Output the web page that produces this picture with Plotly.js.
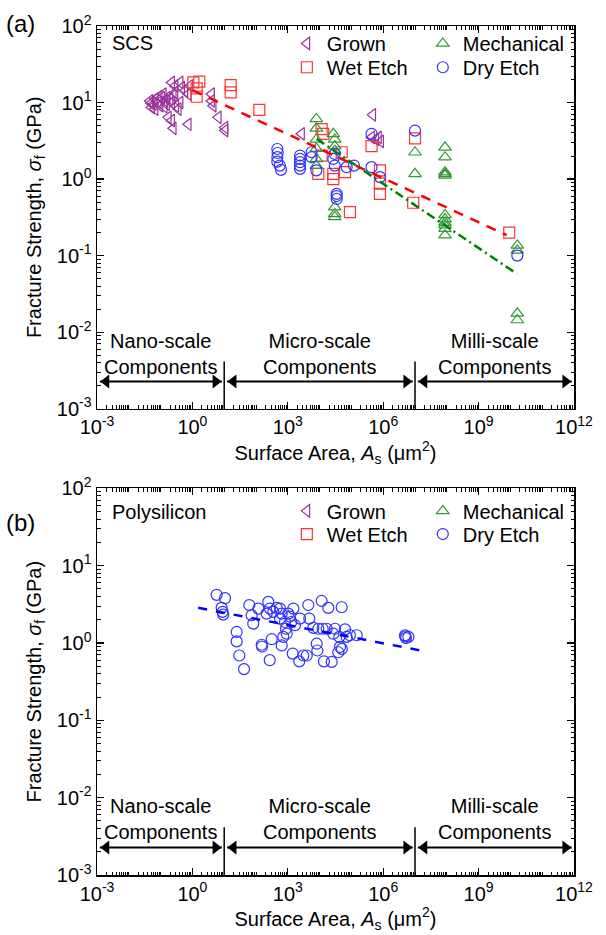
<!DOCTYPE html>
<html><head><meta charset="utf-8">
<script src="https://cdn.plot.ly/plotly-3.0.1.min.js"></script>
<style>body{margin:0;background:#fff}</style>
</head><body><div id="chart" style="width:606px;height:935px"></div>
<script>
// ---------- Panel (a): SCS ----------
const grownA = [0.046,0.059,0.052,0.067,0.085,0.096,0.108,0.137,0.155,0.198,0.223,0.25,0.284,0.36,0.41,0.175,0.223,0.25,0.74,0.223,0.284,0.41,0.46,0.58,0.74,0.84,0.122,0.067,4.0,4.0,4.5,6.5,10.6,10.6,2700,4.7e5,4.3e5,5.9e5,8.3e5,7.1e5,0.09,0.13,0.3,0.05,0.16];
const grownS = [10.5,9.5,8.6,11.1,10,9.1,11.6,10.5,9.5,11.1,10,12.3,13.5,8.2,10,6.4,5.8,4.6,5.2,18.3,16.5,18.3,15.7,14.2,12.9,16.5,12.9,8.2,12.9,10.5,9.1,6.4,4.7,4.3,3.9,6.9,3.5,3.3,3.1,3.5,12,8.8,9,9.8,11.5];

const wetA = [1.07,1.65,1.36,1.36,16,16,127,1.16e4,1.3e4,4.95e4,1.16e4,9.1e3,2.7e4,2.7e4,6.3e4,9e4,4.3e5,7.9e5,7.9e5,7.9e5,1e7,8.8e6,9.2e9];
const wetS = [18.3,18.8,15.3,11.9,16.9,13.6,8.0,4.5,3.9,2.24,2.03,1.17,1.17,1.0,1.23,0.37,2.7,1.3,0.87,0.64,3.4,0.49,0.20];

const mechA = [7.9e3,7.9e3,7.9e3,7.9e3,7.9e3,7.9e3,2.7e4,3e4,3e4,3e4,3e4,3e4,3e4,1e7,1e7,8.8e7,8.8e7,8.8e7,8.8e7,8.8e7,8.8e7,8.8e7,8.8e7,8.8e7,8.8e7,8.8e7,1.65e10,1.65e10,1.65e10,1.65e10];
const mechS = [6.1,4.6,3.3,2.5,1.83,1.5,3.9,3.3,2.7,2.35,0.43,0.35,0.32,2.24,1.17,2.6,1.93,1.23,1.17,1.12,0.34,0.30,0.27,0.25,0.225,0.185,0.136,0.117,0.0176,0.0144];

const dryA = [468,480,470,468,560,611,2420,2420,2420,2420,2420,5.6e3,5.6e3,7.9e3,2.7e4,3e4,3e4,3.45e4,3.45e4,3.45e4,7.1e4,1.2e5,4.3e5,4.3e5,7.9e5,1e7,1.65e10];
const dryS = [2.47,2.19,1.93,1.69,1.5,1.32,2.03,1.83,1.66,1.5,1.36,2.24,1.93,1.3,1.83,2.13,1.5,0.64,0.6,0.55,1.43,1.5,3.9,1.43,1.06,4.3,0.10];

// trend lines (panel a)
const wetFitA = [1, 7.6e9];
const wetFitS = [14.5, 0.185];
const mechFitA = [8.1e3, 1.58e10];
const mechFitS = [3.34, 0.058];

// ---------- Panel (b): Polysilicon ----------
const polyA = [5.8,10.6,8.3,8.9,9.3,24.7,24.7,29.9,42,61.5,73,82,118,151,155,244,275,270,312,351,448,569,643,643,721,816,877,923,1040,1170,1430,1490,1680,2420,3080,2300,3930,4420,4740,6340,8100,8490,9100,11600,12500,13700,16700,18800,24000,27000,30500,41700,43800,49500,38700,63000,71000,90000,147000,50000,217,569,1290,4.85e6,5.2e6,6.2e6,5.0e6];
const polyS = [4.2,3.8,2.85,2.53,2.33,1.39,1.05,0.69,0.46,3.1,2.29,1.78,2.79,0.95,0.9,3.4,2.79,0.6,1.12,2.53,2.85,2.79,2.4,0.93,1.2,1.87,1.53,1.32,2.4,2.2,0.73,2.79,1.7,2.07,0.69,0.58,0.69,3.1,2.07,1.57,0.98,0.80,1.53,3.5,1.53,0.58,1.53,2.85,0.57,1.32,1.53,1.2,0.89,2.9,0.76,1.5,1.2,1.26,1.26,0.84,2.4,2.07,1.87,1.26,1.16,1.2,1.22];
const polyFitA = [1.53, 1.8e7];
const polyFitS = [2.85, 0.79];

// ---------- axes / labels ----------
const xLabelVals = [1e-3,1,1e3,1e6,1e9,1e12];
const xLabelText = ['10<sup>-3</sup>','10<sup>0</sup>','10<sup>3</sup>','10<sup>6</sup>','10<sup>9</sup>','10<sup>12</sup>'];
const xDecadeVals = [1e-3,1e-2,1e-1,1,1e1,1e2,1e3,1e4,1e5,1e6,1e7,1e8,1e9,1e10,1e11,1e12];
const yTickVals = [1e-3,1e-2,1e-1,1,1e1,1e2];
const yTickText = ['10<sup>-3</sup>','10<sup>-2</sup>','10<sup>-1</sup>','10<sup>0</sup>','10<sup>1</sup>','10<sup>2</sup>'];
const seriesNames = ['Grown','Wet Etch','Mechanical','Dry Etch'];
const seriesColors = ['#993399','#FF3333','#339933','#3333FF'];
const seriesSymbols = ['triangle-left-open','square-open','triangle-up-open','circle-open'];
const regionBounds = [1e-3, 10, 1e7, 1e12];   // nano | micro | milli (µm²)
const regionLabels = ['Nano-scale<br>Components','Micro-scale<br>Components','Milli-scale<br>Components'];

const mk = i => ({symbol: seriesSymbols[i], size: 11, color: seriesColors[i], line: {color: seriesColors[i], width: 1.2}});

const traces = [];
const aData = [[grownA,grownS],[wetA,wetS],[mechA,mechS],[dryA,dryS]];
const legendA = ['legend','legend3','legend2','legend4'];
aData.forEach((d,i)=>{
  traces.push({type:'scatter', mode:'markers', x:d[0], y:d[1], name:seriesNames[i], marker:mk(i), xaxis:'x', yaxis:'y', legend:legendA[i]});
});
traces.push({type:'scatter', mode:'lines', x:wetFitA, y:wetFitS, line:{color:'#FF0000', width:2.5, dash:'10px,8px'}, showlegend:false, xaxis:'x', yaxis:'y'});
traces.push({type:'scatter', mode:'lines', x:mechFitA, y:mechFitS, line:{color:'#008000', width:2.5, dash:'9px,4px,2px,4px'}, showlegend:false, xaxis:'x', yaxis:'y'});
const legendB = ['legend5','legend7','legend6','legend8'];
[0,1,2].forEach(i=>{
  traces.push({type:'scatter', mode:'markers', x:[null], y:[null], name:seriesNames[i], marker:mk(i), xaxis:'x2', yaxis:'y2', legend:legendB[i]});
});
traces.push({type:'scatter', mode:'markers', x:polyA, y:polyS, name:seriesNames[3], marker:mk(3), xaxis:'x2', yaxis:'y2', legend:legendB[3]});
traces.push({type:'scatter', mode:'lines', x:polyFitA, y:polyFitS, line:{color:'#0000FF', width:2.5, dash:'9px,9px'}, showlegend:false, xaxis:'x2', yaxis:'y2'});

// scale-region dividers and double arrows
const arrowLevel = Math.pow(10, -2.645);
const dividerTop = Math.pow(10, -2.384);
[['x','y'],['x2','y2']].forEach(ax=>{
  [regionBounds[1], regionBounds[2]].forEach(e=>{
    traces.push({type:'scatter', mode:'lines', x:[e,e], y:[regionBounds[0], dividerTop], line:{color:'black', width:1.5}, showlegend:false, xaxis:ax[0], yaxis:ax[1], cliponaxis:false});
  });
  for (let k=0;k<3;k++){
    const l = Math.log10(regionBounds[k]) + 0.09, r = Math.log10(regionBounds[k+1]) - 0.07;
    traces.push({type:'scatter', mode:'lines', x:[Math.pow(10,l), Math.pow(10,r)], y:[arrowLevel, arrowLevel], line:{color:'black', width:2}, showlegend:false, xaxis:ax[0], yaxis:ax[1], cliponaxis:false});
    traces.push({type:'scatter', mode:'markers', x:[Math.pow(10,l+0.2), Math.pow(10,r-0.2)], y:[arrowLevel, arrowLevel],
      marker:{symbol:['triangle-left','triangle-right'], size:12, color:'black', line:{width:0}}, showlegend:false, xaxis:ax[0], yaxis:ax[1], cliponaxis:false});
  }
});

const font = {family:'"Liberation Sans", Arial, sans-serif', size:20, color:'black'};
const commonAx = {
  type:'log', ticks:'inside', ticklen:7, tickwidth:1.2, tickcolor:'black',
  showline:true, linewidth:1.5, linecolor:'black', mirror:'ticks', showgrid:false, zeroline:false,
  tickfont:{size:20}
};
const xAxisBase = Object.assign({}, commonAx, {
  range:[-3,12], tickmode:'array', tickvals:xLabelVals, ticktext:xLabelText,
  minor:{ticks:'inside', ticklen:3.5, dtick:'D1', tickcolor:'black', tickwidth:1, showgrid:false},
  title:{text:'Surface Area, <i>A</i><sub>s</sub> (μm<sup>2</sup>)', font:{size:20}, standoff:4}, automargin:true
});
const xDecadeAx = {type:'log', range:[-3,12], tickmode:'array', tickvals:xDecadeVals, showticklabels:false,
  ticks:'inside', ticklen:7, tickwidth:1.2, tickcolor:'black', mirror:'ticks', showline:false, showgrid:false, zeroline:false};
const yAxisBase = Object.assign({}, commonAx, {
  range:[-3,2], tickmode:'array', tickvals:yTickVals, ticktext:yTickText,
  minor:{ticks:'inside', ticklen:3.5, dtick:'D1', tickcolor:'black', tickwidth:1, showgrid:false},
  title:{text:'Fracture Strength, <i>σ</i><sub>f</sub> (GPa)', font:{size:20}, standoff:10}, automargin:true
});

const annotations = [];
function addPanel(xr, yr, name, labelY) {
  for (let k=0;k<3;k++){
    const c = (Math.log10(regionBounds[k]) + Math.log10(regionBounds[k+1]))/2;
    annotations.push({xref:xr, yref:yr, x:c, y:-2.28, text:regionLabels[k], showarrow:false, font:{size:20}, align:'center', xanchor:'center', yanchor:'middle'});
  }
  annotations.push({xref:xr+' domain', yref:yr+' domain', x:0.027, y:labelY, text:name, showarrow:false, font:{size:20}, xanchor:'left', yanchor:'middle'});
}
addPanel('x','y','SCS',0.955);
addPanel('x2','y2','Polysilicon',0.94);
annotations.push({xref:'paper', yref:'paper', x:-0.195, y:1.0035, text:'(a)', showarrow:false, font:{size:24}, xanchor:'left', yanchor:'middle'});
annotations.push({xref:'paper', yref:'paper', x:-0.195, y:0.4155, text:'(b)', showarrow:false, font:{size:24}, xanchor:'left', yanchor:'middle'});

const legX = [0.398, 0.683];
const legYTop = [0.9795, 0.9514];
const legYBot = [0.4289, 0.4016];
const legBase = {xanchor:'left', yanchor:'middle', bgcolor:'rgba(0,0,0,0)', borderwidth:0, font:{size:20}, itemwidth:30};
const lay = {
  width:606, height:935,
  margin:{l:97, r:32, t:23, b:60},
  paper_bgcolor:'white', plot_bgcolor:'white',
  font:font, showlegend:true, hovermode:false,
  xaxis:Object.assign({}, xAxisBase, {anchor:'y', domain:[0,1]}),
  yaxis:Object.assign({}, yAxisBase, {anchor:'x', domain:[0.5493,1]}),
  xaxis2:Object.assign({}, xAxisBase, {anchor:'y2', domain:[0,1]}),
  yaxis2:Object.assign({}, yAxisBase, {anchor:'x2', domain:[0,0.4554]}),
  xaxis3:Object.assign({}, xDecadeAx, {overlaying:'x', anchor:'y'}),
  xaxis4:Object.assign({}, xDecadeAx, {overlaying:'x2', anchor:'y2'}),
  legend:Object.assign({}, legBase, {x:legX[0], y:legYTop[0]}),
  legend2:Object.assign({}, legBase, {x:legX[1], y:legYTop[0]}),
  legend3:Object.assign({}, legBase, {x:legX[0], y:legYTop[1]}),
  legend4:Object.assign({}, legBase, {x:legX[1], y:legYTop[1]}),
  legend5:Object.assign({}, legBase, {x:legX[0], y:legYBot[0]}),
  legend6:Object.assign({}, legBase, {x:legX[1], y:legYBot[0]}),
  legend7:Object.assign({}, legBase, {x:legX[0], y:legYBot[1]}),
  legend8:Object.assign({}, legBase, {x:legX[1], y:legYBot[1]}),
  annotations:annotations
};
Plotly.newPlot('chart', traces, lay, {staticPlot:true, displayModeBar:false});
</script></body></html>
